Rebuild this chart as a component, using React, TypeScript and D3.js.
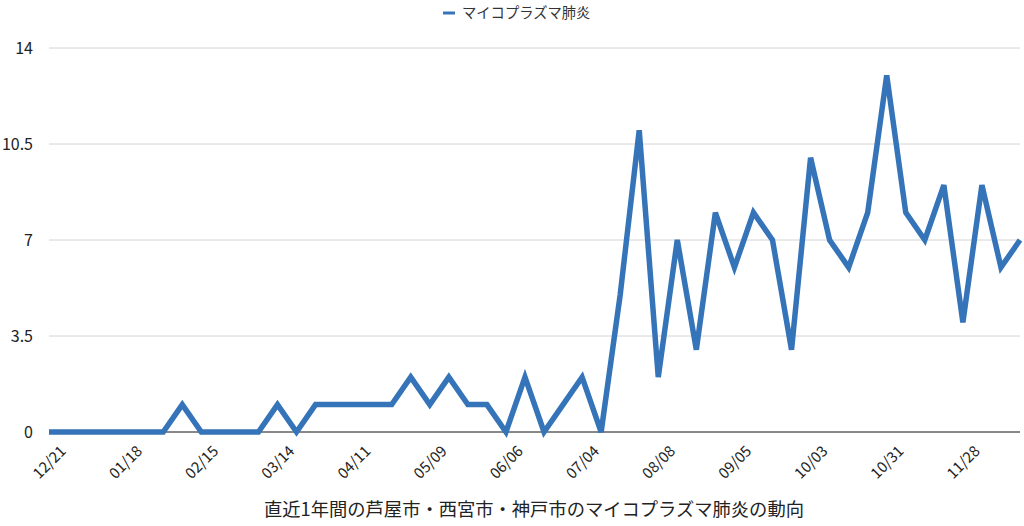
import React from "react";
import * as d3 from "d3";

const weeks: string[] = [
  "12/21","12/28","01/04","01/11","01/18","01/25","02/01","02/08","02/15","02/22","03/01","03/08",
  "03/14","03/21","03/28","04/04","04/11","04/18","04/25","05/02","05/09","05/16","05/23","05/30",
  "06/06","06/13","06/20","06/27","07/04","07/11","07/18","07/25","08/08","08/15","08/22","08/29",
  "09/05","09/12","09/19","09/26","10/03","10/10","10/17","10/24","10/31","11/07","11/14","11/21",
  "11/28","12/05","12/12","12/19"
];
const values: number[] = [
  0,0,0,0,0,0,0,1,0,0,0,0,
  1,0,1,1,1,1,1,2,1,2,1,1,
  0,2,0,1,2,0,5,11,2,7,3,8,
  6,8,7,3,10,7,6,8,13,8,7,9,
  4,9,6,7
];
const labelIdx: number[] = [0,4,8,12,16,20,24,28,32,36,40,44,48];
const yTicks: number[] = [0, 3.5, 7, 10.5, 14];
const seriesName = "マイコプラズマ肺炎";
const title = "直近1年間の芦屋市・西宮市・神戸市のマイコプラズマ肺炎の動向";

const W = 1024, H = 526;
const FONT = "'Noto Sans CJK JP', 'Noto Sans', sans-serif";

export default function App() {
  const x = d3.scalePoint<number>().domain(values.map((_, i) => i)).range([49, 1020]);
  const y = d3.scaleLinear().domain([0, 14]).range([432, 48]);
  const line = d3.line<number>().x((_, i) => x(i)!).y((d) => y(d));
  return (
    <svg width={W} height={H} style={{ position: "absolute", left: 0, top: 0, background: "#fff" }} fontFamily={FONT}>
      {yTicks.map((t) => (
        <g key={t}>
          {t !== 0 && (
            <line x1={49} x2={1020} y1={y(t)} y2={y(t)} stroke="#d4d4d4" strokeWidth={1} />
          )}
          <text x={33} y={y(t)} dy="0.35em" textAnchor="end" fontSize={16} fill="#222">
            {String(t)}
          </text>
        </g>
      ))}
      <line x1={49} x2={1020} y1={y(0)} y2={y(0)} stroke="#111" strokeWidth={1} />
      <path d={line(values) || ""} fill="none" stroke="#3574b8" strokeWidth={5.5} strokeLinejoin="miter" />
      {labelIdx.map((i) => (
        <text
          key={i}
          transform={`translate(${x(i)! + 18},${452}) rotate(-45)`}
          textAnchor="end"
          fontSize={15}
          fill="#222"
        >
          {weeks[i]}
        </text>
      ))}
      <line x1={443} x2={455} y1={13} y2={13} stroke="#3574b8" strokeWidth={3} />
      <text x={462} y={13} dy="0.35em" fontSize={14.3} fill="#333">{seriesName}</text>
      <text x={534} y={510} dy="0.35em" textAnchor="middle" fontSize={18.3} fill="#222">{title}</text>
    </svg>
  );
}
